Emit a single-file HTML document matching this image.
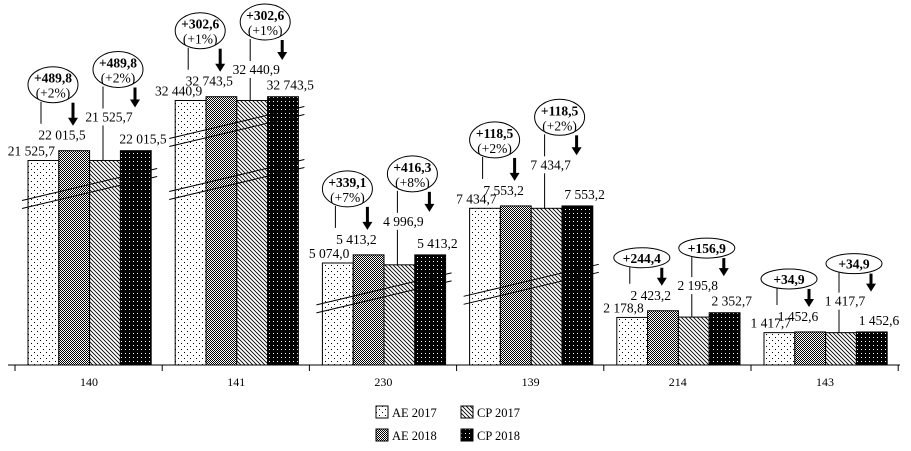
<!DOCTYPE html>
<html><head><meta charset="utf-8"><style>
html,body{margin:0;padding:0;background:#fff;}
svg{display:block;font-family:"Liberation Serif",serif;}
</style></head><body>
<svg id="chart" width="911" height="451" viewBox="0 0 911 451" xmlns="http://www.w3.org/2000/svg">
<defs>
<pattern id="pAE17" width="6" height="6" patternUnits="userSpaceOnUse"><rect width="6" height="6" fill="#fff"/><rect x="1" y="1" width="1" height="1" fill="#000"/><rect x="4" y="4" width="1" height="1" fill="#000"/></pattern>
<pattern id="pAE18" width="2" height="2" patternUnits="userSpaceOnUse"><rect width="2" height="2" fill="#fff"/><rect width="1" height="1" fill="#000"/><rect x="1" y="1" width="1" height="1" fill="#000"/></pattern>
<pattern id="pCP17" width="4" height="4" patternUnits="userSpaceOnUse"><rect width="4" height="4" fill="#fff"/><path d="M-1,-1 L5,5 M-1,3 L1,5 M3,-1 L5,1" stroke="#000" stroke-width="0.9"/></pattern>
<pattern id="pCP18" width="4" height="4" patternUnits="userSpaceOnUse"><rect width="4" height="4" fill="#000"/><rect x="1" y="1" width="1" height="1" fill="#fff"/></pattern>
</defs>
<g id="plot"></g>
<g id="legend"></g>
</svg>
<script>
const categories = ["140","141","230","139","214","143"];
const ae2017 = [21525.7, 32440.9, 5074.0, 7434.7, 2178.8, 1417.7];
const ae2018 = [22015.5, 32743.5, 5413.2, 7553.2, 2423.2, 1452.6];
const cp2017 = [21525.7, 32440.9, 4996.9, 7434.7, 2195.8, 1417.7];
const cp2018 = [22015.5, 32743.5, 5413.2, 7553.2, 2352.7, 1452.6];
const diffA = ["+489,8","+302,6","+339,1","+118,5","+244,4","+34,9"];
const pctA = ["(+2%)","(+1%)","(+7%)","(+2%)","",""];
const diffB = ["+489,8","+302,6","+416,3","+118,5","+156,9","+34,9"];
const pctB = ["(+2%)","(+1%)","(+8%)","(+2%)","",""];
const seriesNames = ["AE 2017","AE 2018","CP 2017","CP 2018"];
const breakCounts = [1,2,1,1,0,0];

const knotsV = [0,1400,2200,2450,4990,5450,7400,7600,21500,22100,32400,32800];
const knotsH = [0,32,48,55,100,111,156,160,204,216,264,269];
const BASE = 365;
function yScale(v){
  for(let i=1;i<knotsV.length;i++){
    if(v<=knotsV[i]){const t=(v-knotsV[i-1])/(knotsV[i]-knotsV[i-1]);return BASE-(knotsH[i-1]+t*(knotsH[i]-knotsH[i-1]));}
  }
  return BASE-knotsH[knotsH.length-1];
}
function xGroup(i){return 28+i*147.2;}
const BW=30.8;
function fmt(v){const s=v.toFixed(1).split(".");const ip=s[0].replace(/\B(?=(\d{3})+(?!\d))/g," ");return ip+","+s[1];}

const NS="http://www.w3.org/2000/svg";
const plot=document.getElementById("plot");
function mk(tag,attrs,parent){const e=document.createElementNS(NS,tag);for(const k in attrs)e.setAttribute(k,attrs[k]);(parent||plot).appendChild(e);return e;}
function txt(x,y,s,anchor,extra){const t=mk("text",Object.assign({x:x,y:y,"font-size":"13.5","text-anchor":anchor||"middle",fill:"#000"},extra||{}));t.textContent=s;return t;}
function arrow(x,y1,y2){
  const l=mk("line",{x1:x,y1:y1,x2:x,y2:y2-7,stroke:"#000","stroke-width":"3"});
  
  
  const p=mk("polygon",{points:(x-5)+","+(y2-8)+" "+(x+5)+","+(y2-8)+" "+x+","+y2,fill:"#000"});
  
  
}

const fills=["url(#pAE17)","url(#pAE18)","url(#pCP17)","url(#pCP18)"];
const series=[ae2017,ae2018,cp2017,cp2018];

categories.forEach((cat,i)=>{
  const gx=xGroup(i);
  const tops=series.map(s=>yScale(s[i]));
  series.forEach((s,k)=>{
    const r=mk("rect",{x:gx+k*BW,y:tops[k],width:BW,height:BASE-tops[k],fill:fills[k],stroke:"#000","stroke-width":"1"});
    
    
  });
  const topMax=Math.max(tops[0],tops[2]);
  for(let b=0;b<breakCounts[i];b++){
    const yb = topMax + (breakCounts[i]>1 ? (b===0?22:75) : (i===3?72:24));
    [0,8].forEach(o=>{
      const l=mk("line",{x1:gx-6,y1:yb+o+16,x2:gx+4*BW+6,y2:yb+o-16,stroke:"#000","stroke-width":"1"});
      
      
    });
  }
  const twoLine = pctA[i]!=="";
  const l0=txt(gx+27,tops[0]-5,fmt(ae2017[i]),"end");
  
  
  const minA = twoLine?77:58, minB = twoLine?74:58;
  const b1=Math.max(tops[1]-11,minA);
  const b2=Math.max(tops[2]-(twoLine?39:27),minB);
  const l1=txt(gx+34,b1,fmt(ae2018[i]),"middle");
  
  
  const l2=txt(gx+81,b2,fmt(cp2017[i]),"middle");
  
  
  const l3=txt(gx+115,tops[3]-7,fmt(cp2018[i]),"middle");
  
  
  const ry = twoLine?18:10, rx = twoLine?25:28;
  const cyA = b1-(twoLine?55:42), cyB = b2-(twoLine?52:42);
  const cxA=gx+25, cxB=gx+90;
  const eA=mk("ellipse",{cx:cxA,cy:cyA,rx:rx,ry:ry,fill:"#fff",stroke:"#000"});
  
  
  const eB=mk("ellipse",{cx:cxB,cy:cyB,rx:rx,ry:ry,fill:"#fff",stroke:"#000"});
  
  
  if(twoLine){
    txt(cxA,cyA-2,diffA[i],"middle",{"font-weight":"bold"});
    txt(cxA,cyA+13,pctA[i],"middle");
    txt(cxB,cyB-2,diffB[i],"middle",{"font-weight":"bold"});
    txt(cxB,cyB+13,pctB[i],"middle");
  } else {
    txt(cxA,cyA+5,diffA[i],"middle",{"font-weight":"bold"});
    txt(cxB,cyB+5,diffB[i],"middle",{"font-weight":"bold"});
  }
  mk("line",{x1:gx+13,y1:cyA+ry-1,x2:gx+13,y2:b1-16,stroke:"#000"});
  arrow(gx+45,cyA+ry,b1-14);
  mk("line",{x1:gx+75,y1:cyB+ry-1,x2:gx+75,y2:b2-13,stroke:"#000"});
  mk("line",{x1:gx+75,y1:b2+4,x2:gx+75,y2:tops[2],stroke:"#000"});
  arrow(gx+107,cyB+ry,b2-14);
  const cl=txt(gx+61,386,cat,"middle",{"font-size":"12"});
  
  
});
const ax=mk("line",{x1:8,y1:BASE,x2:900,y2:BASE,stroke:"#000"});


for(let i=0;i<=categories.length;i++){
  const x=xGroup(i)-13;
  mk("line",{x1:x,y1:BASE,x2:x,y2:BASE+6,stroke:"#000"});
}
const lg=document.getElementById("legend");
const lpos=[[376,406],[376,429],[461,406],[461,429]];
seriesNames.forEach((n,k)=>{
  const [x,y]=lpos[k];
  const r=mk("rect",{x:x,y:y,width:12,height:12,fill:fills[k],stroke:"#000"},lg);
  
  
  const t=mk("text",{x:x+16,y:y+11,"font-size":"12.5",fill:"#000"},lg);
  t.textContent=n;
  
  
});
</script>
</body></html>
